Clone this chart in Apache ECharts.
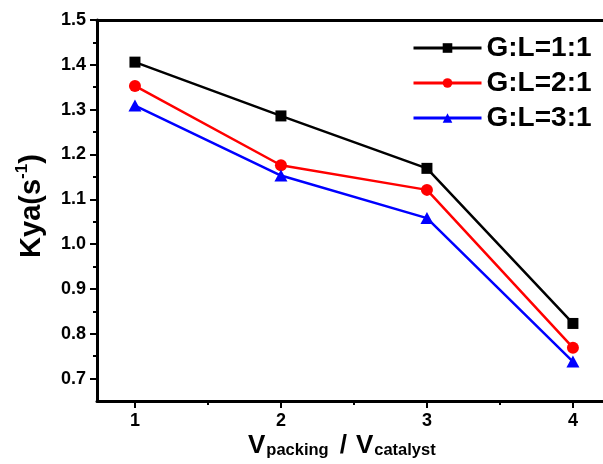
<!DOCTYPE html>
<html>
<head>
<meta charset="utf-8">
<script src="https://cdn.jsdelivr.net/npm/echarts@6/dist/echarts.min.js"></script>
<style>
  html, body { margin: 0; padding: 0; background: #fff; }
  #chart { width: 603px; height: 464px; }
</style>
</head>
<body>
<div id="chart"></div>
<script>
// Volume ratio V_packing / V_catalyst
const ratios = [1, 2, 3, 4];
// Kya (s^-1) for each gas:liquid ratio
const kyaGL11 = [1.406, 1.286, 1.169, 0.823];
const kyaGL21 = [1.353, 1.176, 1.121, 0.769];
const kyaGL31 = [1.309, 1.153, 1.058, 0.738];
const seriesNames = ['G:L=1:1', 'G:L=2:1', 'G:L=3:1'];

// Axis ticks
const xMajorTicks = [1, 2, 3, 4];
const xMinorTicks = [1.5, 2.5, 3.5];
const yMajorTicks = [0.7, 0.8, 0.9, 1.0, 1.1, 1.2, 1.3, 1.4, 1.5];
const yMinorTicks = [0.75, 0.85, 0.95, 1.05, 1.15, 1.25, 1.35, 1.45];

// The frame runs past the right edge of the page, so the visible x range stops short of 4.26
const X_MIN = 0.74, X_MAX = 4.206;
const Y_MIN = 0.65, Y_MAX = 1.5;
const FONT = 'Liberation Sans, Arial, sans-serif';

const chart = echarts.init(document.getElementById('chart'), null, { renderer: 'canvas' });

const axisLineStyle = { color: '#000', width: 3 };
const labelStyle = { color: '#000', fontSize: 18, fontWeight: 'bold', fontFamily: FONT };

function pairs(ys) {
  return ratios.map((x, i) => [x, ys[i]]);
}

const option = {
  animation: false,
  backgroundColor: '#fff',
  grid: { left: 97, top: 20, right: 0, height: 381, containLabel: false },
  legend: {
    orient: 'vertical',
    left: 407,
    top: 29,
    itemWidth: 68,
    itemHeight: 12,
    itemGap: 7,
    lineStyle: { width: 3 },
    textStyle: { color: '#000', fontSize: 28, fontWeight: 'bold', fontFamily: FONT },
    data: seriesNames
  },
  xAxis: [
    {
      type: 'value', min: X_MIN, max: X_MAX, position: 'bottom',
      axisLine: { lineStyle: axisLineStyle },
      axisTick: { show: true, length: 7, lineStyle: { color: '#000', width: 2 }, customValues: xMajorTicks },
      axisLabel: { ...labelStyle, margin: 11, customValues: xMajorTicks, formatter: v => String(Math.round(v)) },
      splitLine: { show: false }
    },
    {
      type: 'value', min: X_MIN, max: X_MAX, position: 'bottom',
      axisLine: { show: false },
      axisTick: { show: true, length: 4, lineStyle: { color: '#000', width: 2 }, customValues: xMinorTicks },
      axisLabel: { show: false },
      splitLine: { show: false }
    },
    {
      type: 'value', min: X_MIN, max: X_MAX, position: 'top',
      axisLine: { lineStyle: axisLineStyle },
      axisTick: { show: false },
      axisLabel: { show: false },
      splitLine: { show: false }
    }
  ],
  yAxis: [
    {
      type: 'value', min: Y_MIN, max: Y_MAX, position: 'left',
      axisLine: { lineStyle: axisLineStyle },
      axisTick: { show: true, length: 7, lineStyle: { color: '#000', width: 2 }, customValues: yMajorTicks },
      axisLabel: { ...labelStyle, margin: 11, customValues: yMajorTicks, formatter: v => v.toFixed(1) },
      splitLine: { show: false }
    },
    {
      type: 'value', min: Y_MIN, max: Y_MAX, position: 'left',
      axisLine: { show: false },
      axisTick: { show: true, length: 4, lineStyle: { color: '#000', width: 2 }, customValues: yMinorTicks },
      axisLabel: { show: false },
      splitLine: { show: false }
    }
  ],
  series: [
    {
      name: seriesNames[0], type: 'line', data: pairs(kyaGL11),
      symbol: 'rect', symbolSize: 11,
      lineStyle: { color: '#000', width: 2.5 }, itemStyle: { color: '#000' }
    },
    {
      name: seriesNames[1], type: 'line', data: pairs(kyaGL21),
      symbol: 'circle', symbolSize: 12,
      lineStyle: { color: '#ff0000', width: 2.5 }, itemStyle: { color: '#ff0000' }
    },
    {
      name: seriesNames[2], type: 'line', data: pairs(kyaGL31),
      symbol: 'triangle', symbolSize: [13, 12],
      lineStyle: { color: '#0000ff', width: 2.5 }, itemStyle: { color: '#0000ff' }
    }
  ],
  graphic: [
    {
      type: 'text',
      left: 248, top: 425,
      style: {
        text: '{v|V}{s|packing}{d|/}{v|V}{s|catalyst}',
        fill: '#000',
        rich: {
          v: { fontSize: 26, fontWeight: 'bold', fontFamily: FONT, verticalAlign: 'top', lineHeight: 26 },
          d: { fontSize: 26, fontWeight: 'bold', fontFamily: FONT, verticalAlign: 'top', lineHeight: 26, padding: [0, 9, 0, 11] },
          s: { fontSize: 16.5, fontWeight: 'bold', fontFamily: FONT, verticalAlign: 'bottom', lineHeight: 18, padding: [17, 0, 0, 1] }
        }
      }
    },
    {
      type: 'text',
      x: 30, y: 206,
      rotation: Math.PI / 2,
      style: {
        text: '{m|Kya(s}{p|-1}{m|)}',
        fill: '#000',
        align: 'center',
        verticalAlign: 'middle',
        rich: {
          m: { fontSize: 29, fontWeight: 'bold', fontFamily: FONT, verticalAlign: 'bottom', lineHeight: 32 },
          p: { fontSize: 17, fontWeight: 'bold', fontFamily: FONT, verticalAlign: 'top', lineHeight: 17, padding: [0, 0, 14, 0] }
        }
      }
    }
  ]
};

chart.setOption(option);
</script>
</body>
</html>
